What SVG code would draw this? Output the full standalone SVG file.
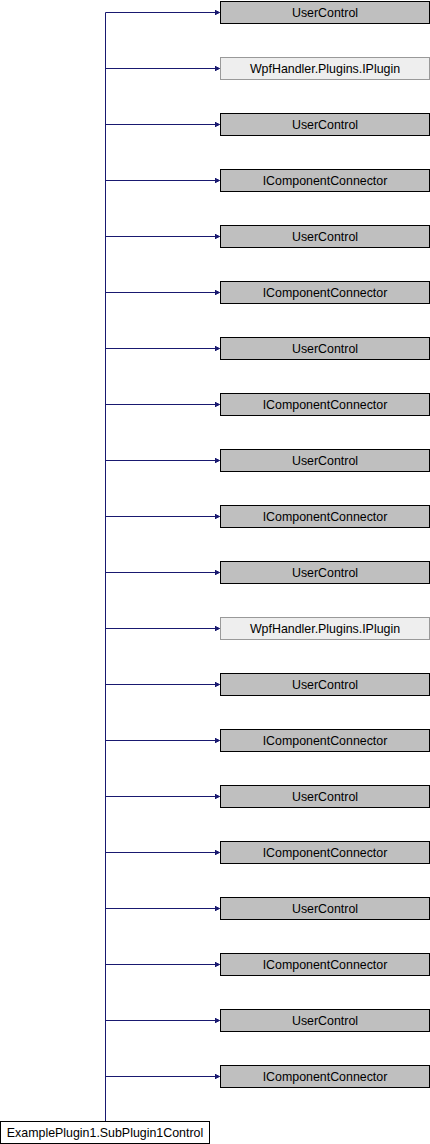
<svg xmlns="http://www.w3.org/2000/svg" width="430" height="1144" viewBox="0 0 430 1144">
<style>
.b rect{fill:#bfbfbf;stroke:#000;stroke-width:1}
.e rect{fill:#eeeeee;stroke:#999999;stroke-width:1}
.w rect{fill:#ffffff;stroke:#000;stroke-width:1}
text{font-family:"Liberation Sans",Arial,sans-serif;font-size:12.4px;text-anchor:middle;fill:#000}
.c path{stroke:#191970;stroke-width:1;fill:none}
</style>
<defs>
<marker id="a" markerWidth="6" markerHeight="6" refX="5" refY="3" orient="auto" markerUnits="userSpaceOnUse">
<path d="M0,0.5 L5,3 L0,5.5 Z" fill="#191970" stroke="#191970" stroke-width="1"/>
</marker>
</defs>
<g class="c" id="connectors">
<path d="M105.5,1121.5 V12.5"/>
<path d="M105.5,12.5 H219.5" marker-end="url(#a)"/>
<path d="M105.5,68.5 H219.5" marker-end="url(#a)"/>
<path d="M105.5,124.5 H219.5" marker-end="url(#a)"/>
<path d="M105.5,180.5 H219.5" marker-end="url(#a)"/>
<path d="M105.5,236.5 H219.5" marker-end="url(#a)"/>
<path d="M105.5,292.5 H219.5" marker-end="url(#a)"/>
<path d="M105.5,348.5 H219.5" marker-end="url(#a)"/>
<path d="M105.5,404.5 H219.5" marker-end="url(#a)"/>
<path d="M105.5,460.5 H219.5" marker-end="url(#a)"/>
<path d="M105.5,516.5 H219.5" marker-end="url(#a)"/>
<path d="M105.5,572.5 H219.5" marker-end="url(#a)"/>
<path d="M105.5,628.5 H219.5" marker-end="url(#a)"/>
<path d="M105.5,684.5 H219.5" marker-end="url(#a)"/>
<path d="M105.5,740.5 H219.5" marker-end="url(#a)"/>
<path d="M105.5,796.5 H219.5" marker-end="url(#a)"/>
<path d="M105.5,852.5 H219.5" marker-end="url(#a)"/>
<path d="M105.5,908.5 H219.5" marker-end="url(#a)"/>
<path d="M105.5,964.5 H219.5" marker-end="url(#a)"/>
<path d="M105.5,1020.5 H219.5" marker-end="url(#a)"/>
<path d="M105.5,1076.5 H219.5" marker-end="url(#a)"/>
</g>
<g id="n0" class="b"><rect x="220.5" y="1.5" width="209" height="22"/><text x="325" y="17">UserControl</text></g>
<g id="n1" class="e"><rect x="220.5" y="57.5" width="209" height="22"/><text x="325" y="73">WpfHandler.Plugins.IPlugin</text></g>
<g id="n2" class="b"><rect x="220.5" y="113.5" width="209" height="22"/><text x="325" y="129">UserControl</text></g>
<g id="n3" class="b"><rect x="220.5" y="169.5" width="209" height="22"/><text x="325" y="185">IComponentConnector</text></g>
<g id="n4" class="b"><rect x="220.5" y="225.5" width="209" height="22"/><text x="325" y="241">UserControl</text></g>
<g id="n5" class="b"><rect x="220.5" y="281.5" width="209" height="22"/><text x="325" y="297">IComponentConnector</text></g>
<g id="n6" class="b"><rect x="220.5" y="337.5" width="209" height="22"/><text x="325" y="353">UserControl</text></g>
<g id="n7" class="b"><rect x="220.5" y="393.5" width="209" height="22"/><text x="325" y="409">IComponentConnector</text></g>
<g id="n8" class="b"><rect x="220.5" y="449.5" width="209" height="22"/><text x="325" y="465">UserControl</text></g>
<g id="n9" class="b"><rect x="220.5" y="505.5" width="209" height="22"/><text x="325" y="521">IComponentConnector</text></g>
<g id="n10" class="b"><rect x="220.5" y="561.5" width="209" height="22"/><text x="325" y="577">UserControl</text></g>
<g id="n11" class="e"><rect x="220.5" y="617.5" width="209" height="22"/><text x="325" y="633">WpfHandler.Plugins.IPlugin</text></g>
<g id="n12" class="b"><rect x="220.5" y="673.5" width="209" height="22"/><text x="325" y="689">UserControl</text></g>
<g id="n13" class="b"><rect x="220.5" y="729.5" width="209" height="22"/><text x="325" y="745">IComponentConnector</text></g>
<g id="n14" class="b"><rect x="220.5" y="785.5" width="209" height="22"/><text x="325" y="801">UserControl</text></g>
<g id="n15" class="b"><rect x="220.5" y="841.5" width="209" height="22"/><text x="325" y="857">IComponentConnector</text></g>
<g id="n16" class="b"><rect x="220.5" y="897.5" width="209" height="22"/><text x="325" y="913">UserControl</text></g>
<g id="n17" class="b"><rect x="220.5" y="953.5" width="209" height="22"/><text x="325" y="969">IComponentConnector</text></g>
<g id="n18" class="b"><rect x="220.5" y="1009.5" width="209" height="22"/><text x="325" y="1025">UserControl</text></g>
<g id="n19" class="b"><rect x="220.5" y="1065.5" width="209" height="22"/><text x="325" y="1081">IComponentConnector</text></g>
<g id="root" class="w"><rect x="0.5" y="1121.5" width="209" height="22"/><text x="105" y="1137">ExamplePlugin1.SubPlugin1Control</text></g>
</svg>
